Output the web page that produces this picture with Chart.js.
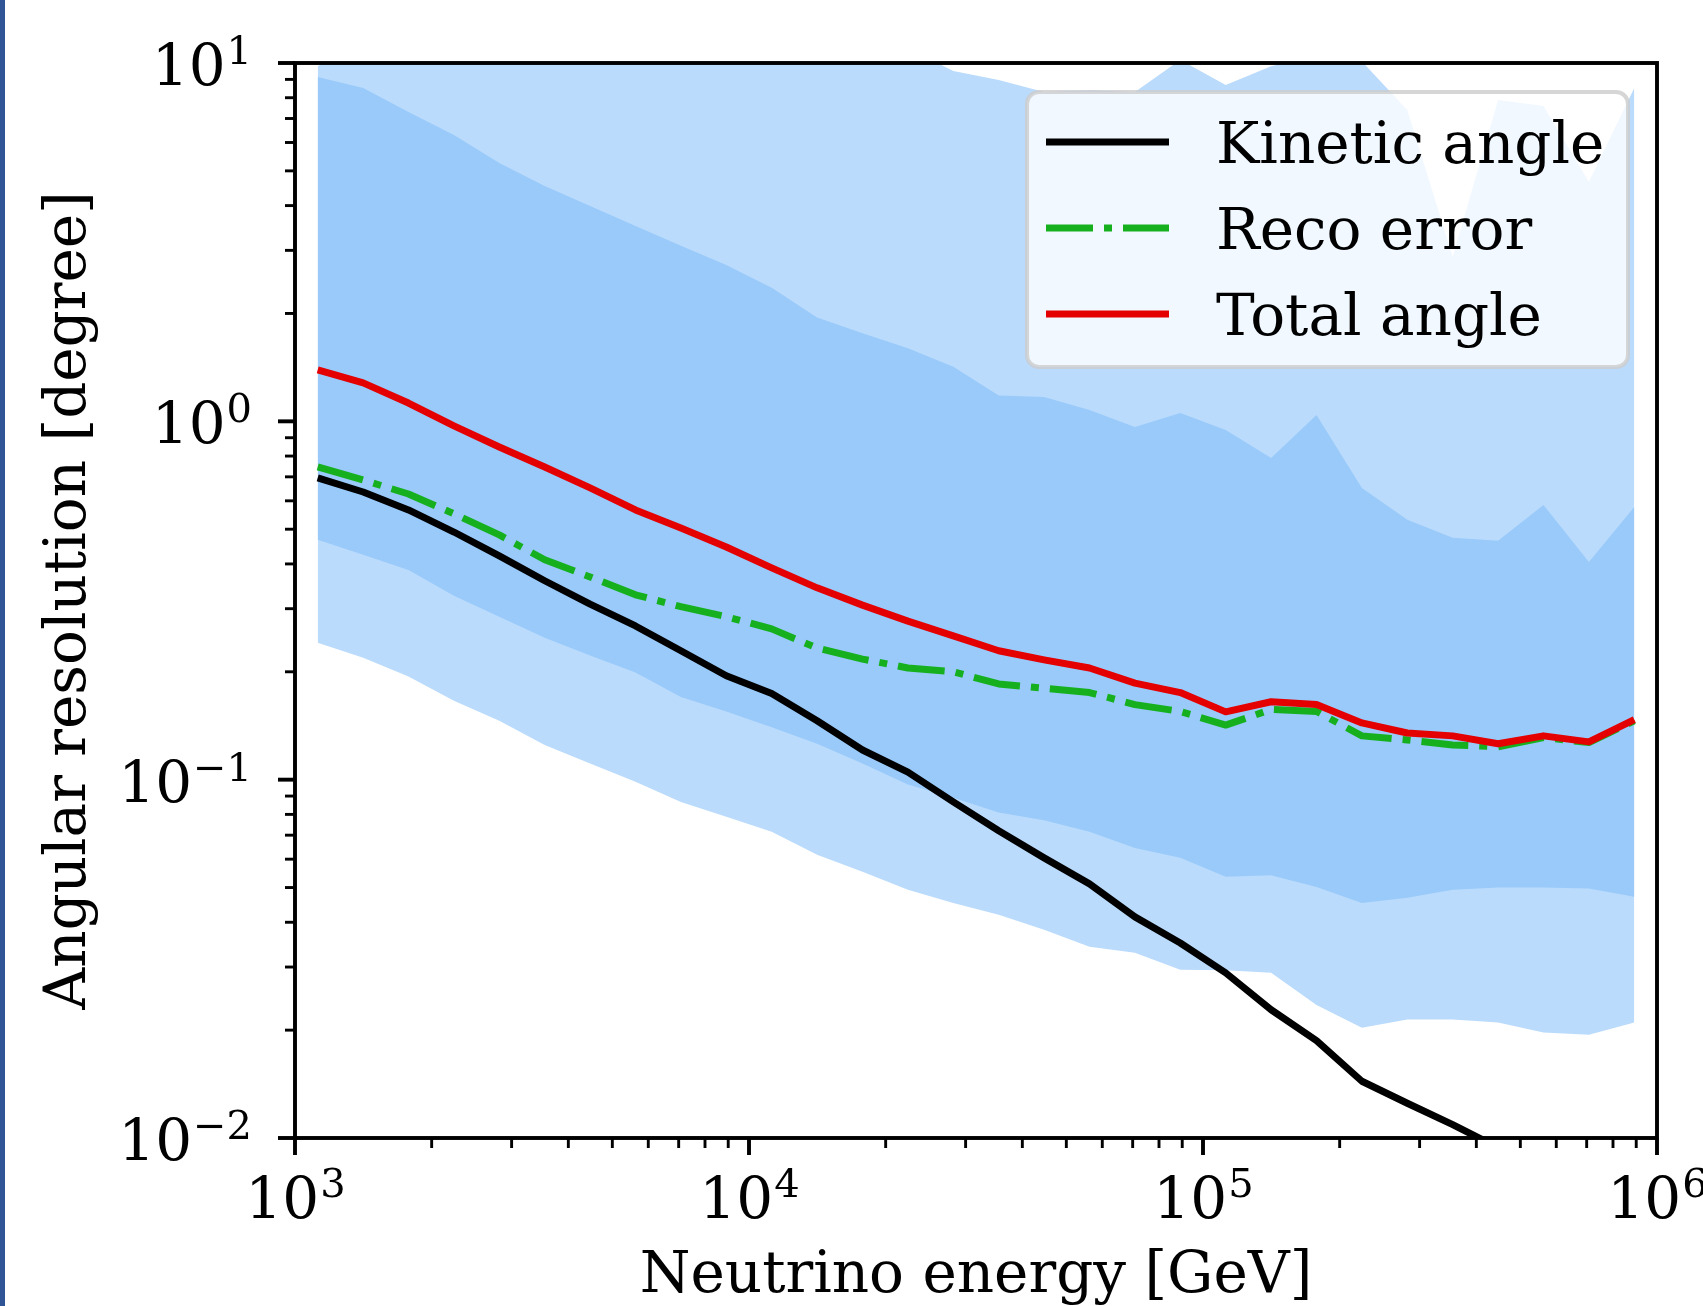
<!DOCTYPE html>
<html>
<head>
<meta charset="utf-8">
<script src="https://cdn.jsdelivr.net/npm/chart.js@4.4.1/dist/chart.umd.min.js"></script>
<style>
  html, body { margin: 0; padding: 0; background: #fff; }
  #wrap { position: relative; width: 1703px; height: 1306px; overflow: hidden; }
  #edge { position: absolute; left: 0; top: 0; width: 5px; height: 100%; background: #2F5597; }
  canvas { display: block; }
</style>
</head>
<body>
<div id="wrap">
  <canvas id="chart" width="1703" height="1306"></canvas>
  <div id="edge"></div>
</div>
<script>
// ---- data -----------------------------------------------------------------
// neutrino energy bins [GeV], 10 per decade
const energy = [1122, 1413, 1778, 2239, 2818, 3548, 4467, 5623, 7079, 8913,
  11220, 14125, 17783, 22387, 28184, 35481, 44668, 56234, 70795, 89125,
  112202, 141254, 177828, 223872, 281838, 354813, 446684, 562341, 707946, 891251];

const kineticAngle = [0.695, 0.635, 0.566, 0.491, 0.421, 0.359, 0.309, 0.2685, 0.229, 0.195,
  0.174, 0.146, 0.121, 0.105, 0.0867, 0.0720, 0.0605, 0.0512, 0.0414, 0.0350,
  0.0289, 0.0228, 0.0187, 0.0144, 0.0125, 0.0109, 0.0094, 0.0082, 0.0072, 0.0063];

const recoError = [0.746, 0.686, 0.627, 0.552, 0.482, 0.411, 0.368, 0.328, 0.304, 0.285,
  0.2635, 0.233, 0.217, 0.205, 0.200, 0.185, 0.180, 0.175, 0.162, 0.155,
  0.142, 0.157, 0.155, 0.1325, 0.129, 0.125, 0.1235, 0.131, 0.127, 0.146];

const totalAngle = [1.391, 1.280, 1.125, 0.971, 0.848, 0.746, 0.652, 0.566, 0.504, 0.446,
  0.390, 0.343, 0.307, 0.277, 0.252, 0.229, 0.216, 0.205, 0.186, 0.175,
  0.1546, 0.165, 0.162, 0.144, 0.135, 0.1325, 0.126, 0.1325, 0.1275, 0.147];

// spread of the total angle: inner (dark) and outer (light) bands
const innerUpper = [9.14, 8.52, 7.30, 6.30, 5.26, 4.54, 3.99, 3.51, 3.09, 2.73,
  2.36, 1.95, 1.76, 1.60, 1.42, 1.18, 1.17, 1.076, 0.965, 1.055,
  0.946, 0.790, 1.042, 0.652, 0.531, 0.473, 0.464, 0.584, 0.405, 0.577];
const innerLower = [0.467, 0.424, 0.385, 0.326, 0.285, 0.249, 0.222, 0.199, 0.170, 0.155,
  0.140, 0.126, 0.111, 0.097, 0.089, 0.081, 0.077, 0.0715, 0.0645, 0.0605,
  0.0536, 0.0541, 0.0502, 0.0453, 0.0468, 0.0493, 0.0500, 0.0500, 0.0497, 0.0471];
const outerUpper = [9.8, 11.5, 12.5, 13.5, 14, 14.5, 15, 15, 15, 14.5,
  14, 13, 12, 11, 9.5, 8.97, 8.3, 8.4, 8.3, 10.2,
  8.68, 9.8, 10.5, 10.1, 7.39, 2.88, 7.88, 7.59, 4.66, 8.52];
const outerLower = [0.241, 0.219, 0.194, 0.166, 0.146, 0.125, 0.111, 0.0986, 0.0867, 0.0788,
  0.0715, 0.0617, 0.0553, 0.0493, 0.0453, 0.0420, 0.0381, 0.0342, 0.0329, 0.0295,
  0.0294, 0.0289, 0.0235, 0.0203, 0.0214, 0.0214, 0.0210, 0.0197, 0.0194, 0.0210];

// tick labels are 10^exponent
const xTickValues = [1e3, 1e4, 1e5, 1e6];
const xTickExps = ['3', '4', '5', '6'];
const yTickValues = [0.01, 0.1, 1, 10];
const yTickExps = ['\u22122', '\u22121', '0', '1'];

// ---- style -----------------------------------------------------------------
const FONT = "'DejaVu Serif', serif";
const COLORS = {
  kinetic: '#000000',
  reco: '#16B01F',
  total: '#E40000',
  outer: 'rgb(186,219,252)',
  inner: 'rgb(153,202,250)'
};
const LW = 7; // data line width (1.5pt at this scale)

function lineSet(label, data, color, order, dash) {
  return {
    label, data, order,
    borderColor: color,
    borderWidth: LW,
    borderDash: dash || [],
    borderJoinStyle: 'round',
    pointRadius: 0,
    tension: 0,
    fill: false,
    clip: 0
  };
}

function bandSet(data, color, target, order) {
  return {
    label: '', data, band: true, order,
    borderWidth: 0,
    borderColor: 'rgba(0,0,0,0)',
    backgroundColor: color,
    pointRadius: 0,
    tension: 0,
    fill: target === null ? false : target,
    clip: 0
  };
}

// "10" with a raised, smaller exponent (mathtext look)
function drawPow(ctx, exp, x, baseline, align) {
  ctx.font = `58px ${FONT}`;
  const wb = ctx.measureText('10').width;
  ctx.font = `40px ${FONT}`;
  const we = ctx.measureText(exp).width;
  const left = align === 'center' ? x - (wb + we) / 2 : x - (wb + we);
  ctx.font = `58px ${FONT}`;
  ctx.fillText('10', left, baseline);
  ctx.font = `40px ${FONT}`;
  ctx.fillText(exp, left + wb + 1, baseline - 21);
}

// spines, major/minor tick marks and tick labels, matplotlib style
const axesFrame = {
  id: 'axesFrame',
  afterDatasetsDraw(chart) {
    const { ctx, chartArea: a, scales: { x, y } } = chart;
    ctx.save();
    ctx.strokeStyle = '#000';
    const minors = (lo, hi) => {
      const out = [];
      for (let d = lo; d < hi; d++) for (let m = 2; m <= 9; m++) out.push(m * Math.pow(10, d));
      return out;
    };
    const xTick = (v, len, w) => {
      const px = x.getPixelForValue(v);
      ctx.lineWidth = w;
      ctx.beginPath(); ctx.moveTo(px, a.bottom); ctx.lineTo(px, a.bottom + len); ctx.stroke();
    };
    const yTick = (v, len, w) => {
      const py = y.getPixelForValue(v);
      ctx.lineWidth = w;
      ctx.beginPath(); ctx.moveTo(a.left, py); ctx.lineTo(a.left - len, py); ctx.stroke();
    };
    minors(3, 6).forEach(v => xTick(v, 10, 2.9));
    minors(-2, 1).forEach(v => yTick(v, 10, 2.9));
    xTickValues.forEach(v => xTick(v, 17, 3.9));
    yTickValues.forEach(v => yTick(v, 17, 3.9));
    ctx.lineWidth = 3.9;
    ctx.strokeRect(a.left, a.top, a.right - a.left, a.bottom - a.top);

    ctx.fillStyle = '#000';
    ctx.textAlign = 'left';
    ctx.textBaseline = 'alphabetic';
    xTickValues.forEach((v, i) => drawPow(ctx, xTickExps[i], x.getPixelForValue(v), a.bottom + 80, 'center'));
    yTickValues.forEach((v, i) => drawPow(ctx, yTickExps[i], a.left - 44, y.getPixelForValue(v) + 22, 'right'));
    ctx.restore();
  }
};

// legend box in the upper-right corner of the axes
const legendBox = {
  id: 'legendBox',
  afterDraw(chart) {
    const { ctx, chartArea: a } = chart;
    const items = chart.data.datasets.filter(d => !d.band);
    const w = 601, h = 275, pad = 29;
    const x0 = a.right - pad - w, y0 = a.top + pad;
    ctx.save();
    ctx.beginPath();
    ctx.roundRect(x0, y0, w, h, 12);
    ctx.fillStyle = 'rgba(255,255,255,0.8)';
    ctx.fill();
    ctx.lineWidth = 4;
    ctx.strokeStyle = 'rgba(204,204,204,0.8)';
    ctx.stroke();
    ctx.font = `58px ${FONT}`;
    ctx.textBaseline = 'alphabetic';
    ctx.textAlign = 'left';
    items.forEach((d, i) => {
      const cy = y0 + 50 + i * 86;
      ctx.beginPath();
      ctx.setLineDash(d.borderDash);
      ctx.strokeStyle = d.borderColor;
      ctx.lineWidth = d.borderWidth;
      ctx.moveTo(x0 + 19, cy);
      ctx.lineTo(x0 + 142, cy);
      ctx.stroke();
      ctx.setLineDash([]);
      ctx.fillStyle = '#000';
      ctx.fillText(d.label, x0 + 189, cy + 21);
    });
    ctx.restore();
  }
};

const datasets = [
  lineSet('Kinetic angle', kineticAngle, COLORS.kinetic, 2),
  lineSet('Reco error', recoError, COLORS.reco, 1, [47, 11, 8, 11]),
  lineSet('Total angle', totalAngle, COLORS.total, 0),
  bandSet(outerUpper, COLORS.outer, 4, 10),
  bandSet(outerLower, COLORS.outer, null, 10),
  bandSet(innerUpper, COLORS.inner, 6, 9),
  bandSet(innerLower, COLORS.inner, null, 9)
];

new Chart(document.getElementById('chart').getContext('2d'), {
  type: 'line',
  data: { labels: energy, datasets },
  plugins: [axesFrame, legendBox],
  options: {
    responsive: false,
    animation: false,
    devicePixelRatio: 1,
    events: [],
    layout: { padding: { left: 0, right: 46, top: 63, bottom: 0 } },
    plugins: { legend: { display: false }, tooltip: { enabled: false } },
    scales: {
      x: {
        type: 'logarithmic',
        min: 1e3, max: 1e6,
        grid: { display: false, drawTicks: false },
        border: { display: false },
        afterBuildTicks: s => { s.ticks = xTickValues.map(v => ({ value: v })); },
        afterFit: s => { s.height = 168; s.paddingLeft = 0; s.paddingRight = 0; },
        ticks: { display: false },
        title: {
          display: true, text: 'Neutrino energy [GeV]', color: '#000',
          font: { family: FONT, size: 58, lineHeight: 1 }, padding: { top: 0, bottom: 0 }
        }
      },
      y: {
        type: 'logarithmic',
        min: 0.01, max: 10,
        grid: { display: false, drawTicks: false },
        border: { display: false },
        afterBuildTicks: s => { s.ticks = yTickValues.map(v => ({ value: v })); },
        afterFit: s => { s.width = 295; s.paddingTop = 0; s.paddingBottom = 0; },
        ticks: { display: false },
        title: {
          display: true, text: 'Angular resolution [degree]', color: '#000',
          font: { family: FONT, size: 58, lineHeight: 1 }, padding: { top: 41, bottom: 0 }
        }
      }
    }
  }
});
</script>
</body>
</html>
